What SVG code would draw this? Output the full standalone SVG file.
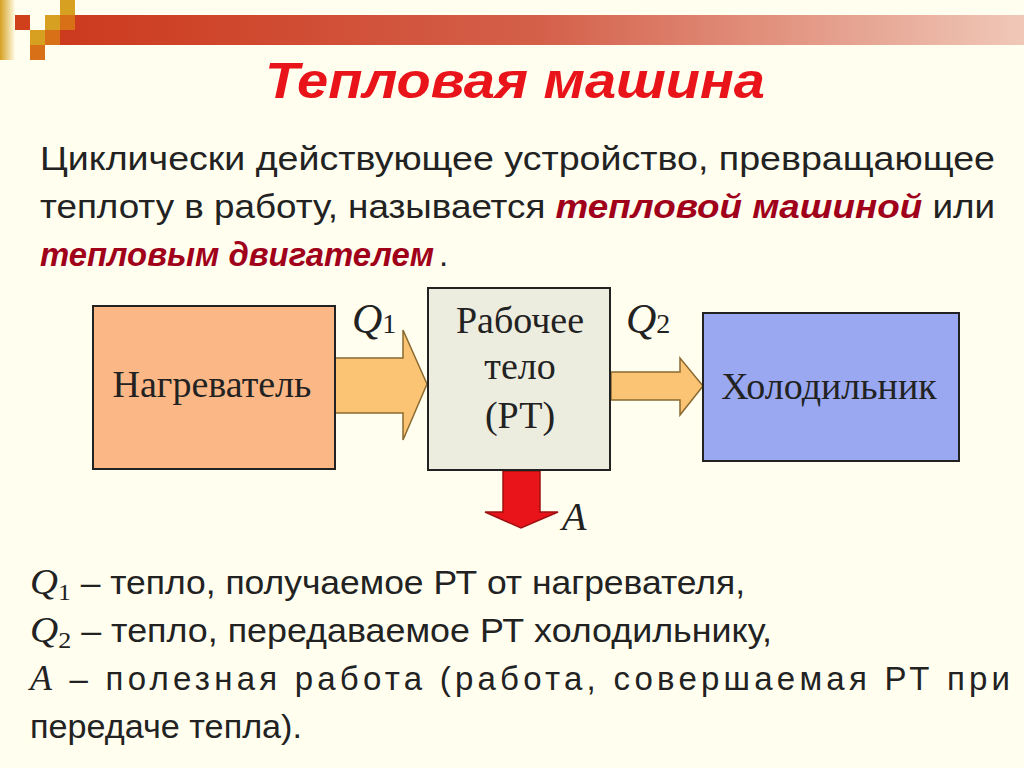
<svg xmlns="http://www.w3.org/2000/svg" width="1024" height="768" viewBox="0 0 1024 768">
<defs>
<linearGradient id="bar" x1="0" x2="1"><stop offset="0" stop-color="#cc3a1e"/><stop offset="0.5" stop-color="#d4604a"/><stop offset="1" stop-color="#f0c8b8"/></linearGradient>
<linearGradient id="side" x1="0" x2="1"><stop offset="0" stop-color="#d4a020"/><stop offset="1" stop-color="#fffbe6"/></linearGradient>
<style>
.t{font-family:"Liberation Sans",Arial,sans-serif;}
.s{font-family:"Liberation Serif","Times New Roman",serif;}
.box{stroke:#222;stroke-width:2;}
.arr{fill:#fbc474;stroke:#8a6a30;stroke-width:1.5;}
.body{font-family:"Liberation Sans",Arial,sans-serif;font-size:33px;fill:#222;}
.em{fill:#a0001a;font-weight:bold;font-style:italic;}
</style>
</defs>
<rect width="1024" height="768" fill="#fffeef"/>
<rect x="60" y="15" width="964" height="30" fill="url(#bar)"/>
<rect x="0" y="0" width="15" height="60" fill="url(#side)"/>
<rect x="15" y="15" width="15" height="15" fill="#d0401a"/>
<rect x="45" y="15" width="15" height="15" fill="#d8a020"/>
<rect x="60" y="0" width="15" height="15" fill="#d8a020"/>
<rect x="60" y="15" width="15" height="15" fill="#d87018"/>
<rect x="30" y="30" width="15" height="15" fill="#d8a020"/>
<rect x="45" y="30" width="15" height="15" fill="#d87018"/>
<rect x="30" y="45" width="15" height="15" fill="#d87018"/>
<text x="265" y="98" class="t" font-size="50" font-weight="bold" font-style="italic" fill="#e8141a" textLength="500" lengthAdjust="spacingAndGlyphs">Тепловая машина</text>
<text class="body" x="40" y="170" textLength="955" lengthAdjust="spacingAndGlyphs">Циклически действующее устройство, превращающее</text>
<text class="body" x="40" y="218" textLength="955" lengthAdjust="spacingAndGlyphs">теплоту в работу, называется <tspan class="em">тепловой машиной</tspan> или</text>
<text x="40" y="266" textLength="394" lengthAdjust="spacingAndGlyphs" class="body em">тепловым двигателем</text>
<text class="body" x="439" y="266">.</text>
<g id="connectors">
<path class="arr" d="M335,358 H403 V330 L427,384 L403,440 V413 H335 Z"/>
<path class="arr" d="M611,372 H680 V358 L703,386 L680,415 V400 H611 Z"/>
<path d="M503,471 H540 V512 H558 L521,528 L485,512 H503 Z" fill="#e8141a" stroke="#a01010" stroke-width="1.5"/>
</g>
<g id="heater"><rect class="box" x="93" y="306" width="242" height="163" fill="#fbb886"/>
<text x="212" y="397" text-anchor="middle" class="s" font-size="38" fill="#222">Нагреватель</text></g>
<g id="rt"><rect class="box" x="428" y="288" width="182" height="182" fill="#ececdf"/>
<text text-anchor="middle" class="s" font-size="38" fill="#222"><tspan x="520" y="333">Рабочее</tspan><tspan x="520" y="379">тело</tspan><tspan x="520" y="428">(РТ)</tspan></text></g>
<g id="cooler"><rect class="box" x="703" y="313" width="256" height="148" fill="#99a8f0"/>
<text x="829" y="399" text-anchor="middle" class="s" font-size="38" fill="#222">Холодильник</text></g>
<g class="s" fill="#222">
<text x="352" y="333" font-size="42" font-style="italic">Q<tspan font-size="28" font-style="normal">1</tspan></text>
<text x="626" y="333" font-size="42" font-style="italic">Q<tspan font-size="28" font-style="normal">2</tspan></text>
<text x="562" y="530" font-size="40" font-style="italic">A</text>
</g>
<g class="body">
<text x="30" y="594" textLength="715" lengthAdjust="spacingAndGlyphs"><tspan class="s" font-style="italic" font-size="36">Q</tspan><tspan class="s" font-size="24" dy="6">1</tspan><tspan dy="-6"> – тепло, получаемое РТ от нагревателя,</tspan></text>
<text x="30" y="642" textLength="742" lengthAdjust="spacingAndGlyphs"><tspan class="s" font-style="italic" font-size="36">Q</tspan><tspan class="s" font-size="24" dy="6">2</tspan><tspan dy="-6"> – тепло, передаваемое РТ холодильнику,</tspan></text>
<text x="30" y="690" textLength="980" lengthAdjust="spacing"><tspan class="s" font-style="italic" font-size="36">A</tspan> – полезная работа (работа, совершаемая РТ при</text>
<text x="30" y="738" textLength="272" lengthAdjust="spacingAndGlyphs">передаче тепла).</text>
</g>
</svg>
